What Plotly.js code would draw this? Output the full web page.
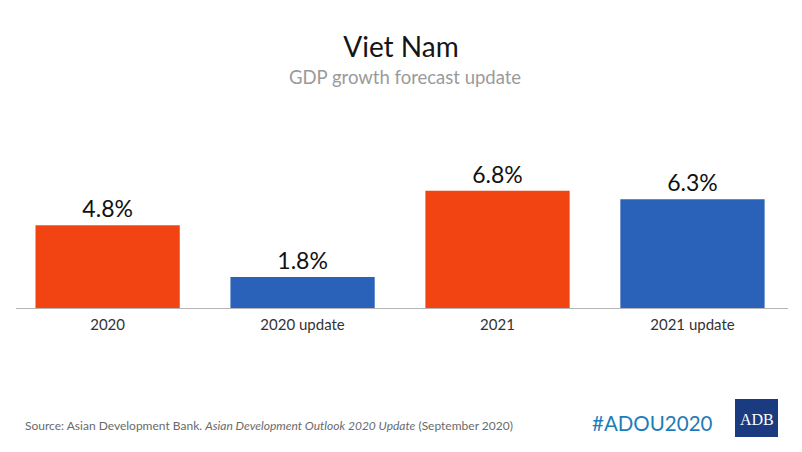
<!DOCTYPE html>
<html>
<head>
<meta charset="utf-8">
<script src="https://cdn.plot.ly/plotly-3.0.1.min.js"></script>
<style>html,body{margin:0;padding:0;background:#fff;}#chart{width:802px;height:452px;}</style>
</head>
<body>
<div id="chart"></div>
<script>
const categories = ["2020", "2020 update", "2021", "2021 update"];
const growth = [4.8, 1.8, 6.8, 6.3];
const valueLabels = ["4.8%", "1.8%", "6.8%", "6.3%"];
const barColors = ["#F24412", "#2A62BA", "#F24412", "#2A62BA"];

const W = 802, H = 452;
const L = 16, R = 14, T = 170, B = 144;
const pw = W - L - R, ph = H - T - B;
const px = x => (x - L) / pw;
const py = y => (H - B - y) / ph;

const trace = {
  type: "bar",
  x: categories.map((c, i) => i),
  y: growth,
  text: valueLabels,
  textposition: "outside",
  textfont: {family: "Lato, 'Open Sans', sans-serif", size: 23, color: "#111"},
  marker: {color: barColors},
  width: 0.74,
  cliponaxis: false,
  hoverinfo: "none"
};

const layout = {
  width: W, height: H,
  margin: {l: L, r: R, t: T, b: B},
  paper_bgcolor: "#fff", plot_bgcolor: "#fff",
  showlegend: false,
  font: {family: "Lato, 'Open Sans', sans-serif"},
  title: {
    text: "Viet Nam",
    font: {family: "Lato, sans-serif", size: 28, color: "#151515"},
    x: 0.5, xanchor: "center", xref: "container",
    y: 1 - 47 / H, yanchor: "middle", yref: "container"
  },
  xaxis: {
    range: [-0.47, 3.49],
    tickvals: categories.map((c, i) => i),
    ticktext: categories,
    tickfont: {family: "Lato, sans-serif", size: 15, color: "#333"},
    ticklabelstandoff: 3,
    showline: true, linecolor: "#b5b5b5", linewidth: 1,
    showgrid: false, zeroline: false, ticks: "", fixedrange: true
  },
  yaxis: {
    range: [0, 8],
    visible: false, showgrid: false, zeroline: false, fixedrange: true
  },
  annotations: [
    {text: "GDP growth forecast update", xref: "paper", yref: "paper",
     x: px(405), y: py(77), xanchor: "center", yanchor: "middle", showarrow: false,
     font: {family: "Lato, sans-serif", size: 18.5, color: "#9a9a9a"}},
    {text: "Source: Asian Development Bank. <i>Asian Development Outlook 2020 Update</i> (September 2020)",
     xref: "paper", yref: "paper", x: px(23), y: py(425), xanchor: "left", yanchor: "middle",
     showarrow: false, font: {family: "Lato, sans-serif", size: 12, color: "#6a6a6a"}},
    {text: "#ADOU2020", xref: "paper", yref: "paper", x: px(652), y: py(423),
     xanchor: "center", yanchor: "middle", showarrow: false,
     font: {family: "Lato, sans-serif", size: 20.5, color: "#1C7DB8"}},
    {text: "ADB", xref: "paper", yref: "paper", x: px(756.5), y: py(419),
     xanchor: "center", yanchor: "middle", showarrow: false,
     font: {family: "'Liberation Serif', serif", size: 16, color: "#ffffff"}}
  ],
  shapes: [
    {type: "rect", xref: "paper", yref: "paper",
     x0: px(735), x1: px(778), y0: py(437), y1: py(399),
     fillcolor: "#1B3B80", line: {width: 0}, layer: "below"}
  ]
};

Plotly.newPlot("chart", [trace], layout, {displayModeBar: false, staticPlot: true});
</script>
</body>
</html>
